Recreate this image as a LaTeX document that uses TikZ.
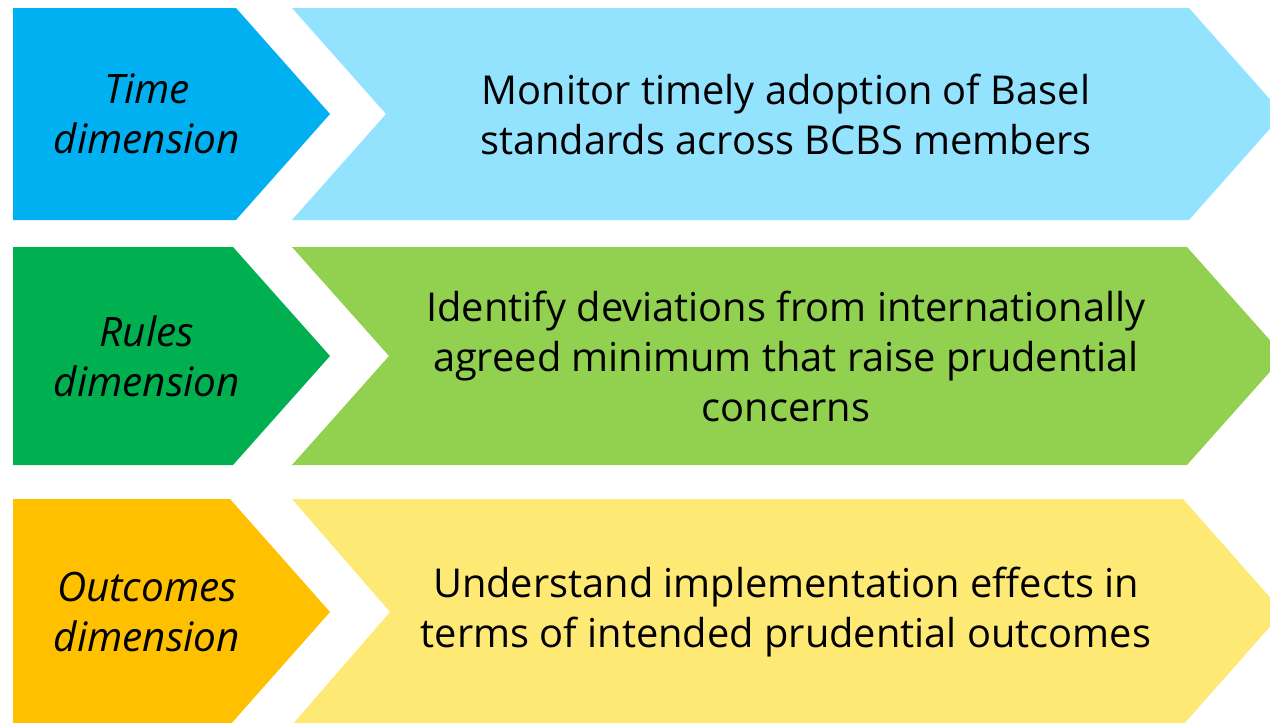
\documentclass[tikz,border=0pt]{standalone}
\usepackage{fontspec}
\setmainfont{Open Sans}
\definecolor{timedark}{HTML}{00B0F0}
\definecolor{timelight}{HTML}{93E3FF}
\definecolor{rulesdark}{HTML}{00B050}
\definecolor{ruleslight}{HTML}{92D050}
\definecolor{outdark}{HTML}{FFC000}
\definecolor{outlight}{HTML}{FFE975}
\tikzset{
  dimlabel/.style={align=center, font=\fontsize{40.5}{50}\selectfont\itshape},
  goallabel/.style={align=center, font=\fontsize{39.8}{50}\selectfont},
}
\begin{document}
\begin{tikzpicture}[x=1pt, y=-1pt]
\useasboundingbox (0,0) rectangle (1270,723);
\clip (0,0) rectangle (1270,723);

% Time dimension
\fill[timedark] (13,8) -- (236,8) -- (330,114) -- (236,220) -- (13,220) -- cycle;
\fill[timelight] (292,8) -- (1189,8) -- (1283,114) -- (1189,220) -- (292,220) -- (386,114) -- cycle;
\node[dimlabel] (time) at (147,114) {Time\\dimension};
\node[goallabel] (timegoal) at (786,114) {Monitor timely adoption of Basel\\standards across BCBS members};

% Rules dimension
\fill[rulesdark] (13,247) -- (233,247) -- (330,356) -- (233,465) -- (13,465) -- cycle;
\fill[ruleslight] (292,247) -- (1187,247) -- (1284,356) -- (1187,465) -- (292,465) -- (389,356) -- cycle;
\node[dimlabel] (rules) at (147,356) {Rules\\dimension};
\node[goallabel] (rulesgoal) at (786,356) {Identify deviations from internationally\\agreed minimum that raise prudential\\concerns};

% Outcomes dimension
\fill[outdark] (13,499) -- (230,499) -- (330,612) -- (230,725) -- (13,725) -- cycle;
\fill[outlight] (292,499) -- (1183,499) -- (1283,612) -- (1183,725) -- (292,725) -- (390,612) -- cycle;
\node[dimlabel] (outcomes) at (147,612) {Outcomes\\dimension};
\node[goallabel] (outcomesgoal) at (786,612) {Understand implementation effects in\\terms of intended prudential outcomes};
\end{tikzpicture}
\end{document}
